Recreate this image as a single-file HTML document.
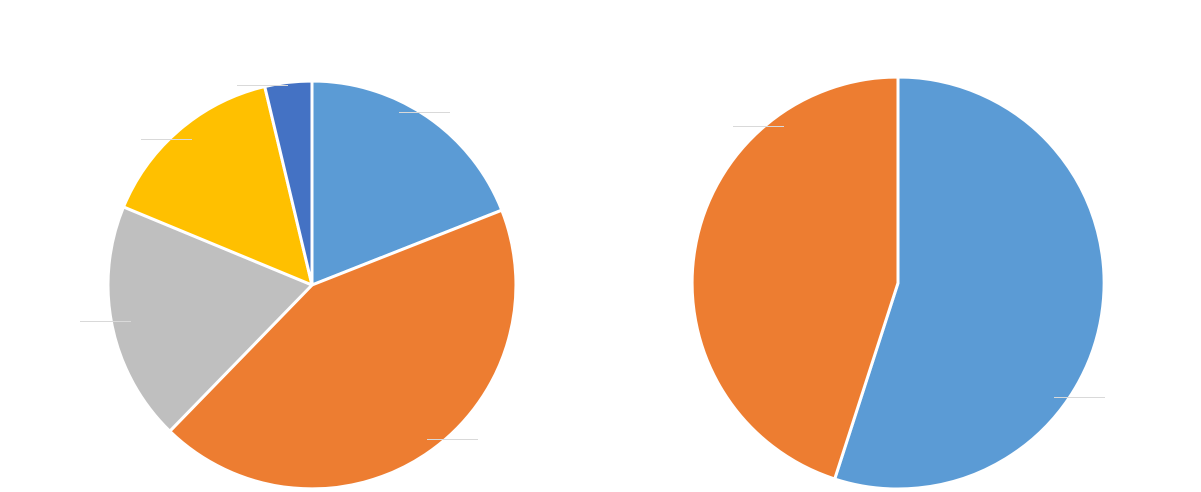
<!DOCTYPE html>
<html><head><meta charset="utf-8"><style>html,body{margin:0;padding:0;background:#fff;}svg{display:block}</style></head>
<body>
<svg width="1201" height="492" viewBox="0 0 1201 492" xmlns="http://www.w3.org/2000/svg">
<g stroke="#fff" stroke-width="3" stroke-linejoin="round">
<path d="M312,285 L312,81 A204,204 0 0 1 501.8,210.2 Z" fill="#5B9BD5"/>
<path d="M312,285 L501.8,210.2 A204,204 0 0 1 169.8,431.2 Z" fill="#ED7D31"/>
<path d="M312,285 L169.8,431.2 A204,204 0 0 1 123.5,206.9 Z" fill="#BFBFBF"/>
<path d="M312,285 L123.5,206.9 A204,204 0 0 1 264.7,86.5 Z" fill="#FFC000"/>
<path d="M312,285 L264.7,86.5 A204,204 0 0 1 312,81 Z" fill="#4472C4"/>
<path d="M898,283 L898,77 A206,206 0 1 1 834.7,479 Z" fill="#5B9BD5"/>
<path d="M898,283 L834.7,479 A206,206 0 0 1 898,77 Z" fill="#ED7D31"/>
</g>
<g stroke="#d9d9d9" stroke-width="1">
<line x1="399" y1="112.5" x2="450" y2="112.5"/>
<line x1="427" y1="439.5" x2="478" y2="439.5"/>
<line x1="80" y1="321.5" x2="131" y2="321.5"/>
<line x1="141" y1="139.5" x2="192" y2="139.5"/>
<line x1="237" y1="85.5" x2="288" y2="85.5"/>
<line x1="733" y1="126.5" x2="784" y2="126.5"/>
<line x1="1054" y1="397.5" x2="1105" y2="397.5"/>
</g>
</svg>
</body></html>
